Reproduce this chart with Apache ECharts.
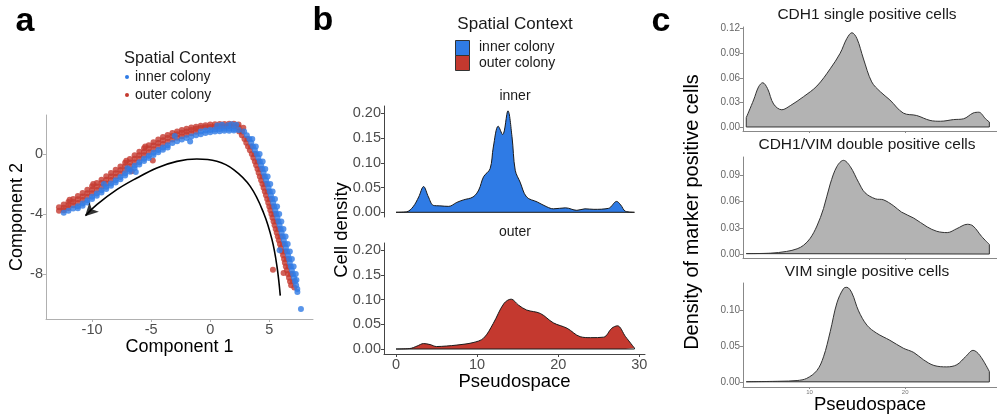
<!DOCTYPE html>
<html><head><meta charset="utf-8">
<script src="https://cdn.jsdelivr.net/npm/echarts@6/dist/echarts.min.js"></script>
<style>html,body{margin:0;padding:0;background:#fff}#chart{width:997px;height:417px}</style>
</head><body><div id="chart"></div>
<script>
const FONT = "'Liberation Sans', Arial, Helvetica, sans-serif";
const BLUE = '#2f7be5';
const RED = '#c4392f';
const GREY = '#b3b3b3';

// ---------- Panel a: trajectory scatter (Component 1 vs Component 2) ----------
const componentXTicks = [-10, -5, 0, 5];
const componentYTicks = [-8, -4, 0];
const outerColonyPoints = [
 // left arm
 [-12.8,-3.55],[-12.8,-3.78],[-12.4,-3.36],[-12.4,-3.58],[-12.4,-3.75],[-12.0,-3.2],[-12.0,-3.4],[-12.0,-3.6],
 [-11.6,-3.0],[-11.6,-3.2],[-11.6,-3.42],[-11.2,-2.8],[-11.2,-3.02],[-11.2,-3.26],[-10.8,-2.6],[-10.8,-2.83],[-10.8,-3.07],
 [-10.4,-2.38],[-10.4,-2.61],[-10.4,-2.85],[-10.0,-2.15],[-10.0,-2.38],[-10.0,-2.62],[-9.6,-1.93],[-9.6,-2.16],[-9.6,-2.4],
 [-9.2,-1.71],[-9.2,-1.94],[-9.2,-2.18],[-8.8,-1.49],[-8.8,-1.72],[-8.8,-1.96],[-8.4,-1.27],[-8.4,-1.5],[-8.4,-1.74],
 [-8.0,-1.05],[-8.0,-1.28],[-8.0,-1.52],[-7.6,-0.83],[-7.6,-1.06],[-7.6,-1.3],[-7.2,-0.59],[-7.2,-0.82],[-7.2,-1.06],
 [-6.8,-0.34],[-6.8,-0.57],[-6.8,-0.81],[-6.4,-0.09],[-6.4,-0.32],[-6.4,-0.56],[-6.0,0.15],[-6.0,-0.08],[-6.0,-0.32],
 [-5.6,0.38],[-5.6,0.15],[-5.6,-0.09],[-5.2,0.59],[-5.2,0.36],[-5.2,0.12],[-4.8,0.79],[-4.8,0.56],[-4.8,0.32],
 [-4.4,0.97],[-4.4,0.74],[-4.4,0.5],[-4.0,1.14],[-4.0,0.91],[-4.0,0.67],[-3.6,1.27],[-3.6,1.06],[-3.6,0.82],
 [-3.2,1.4],[-3.2,1.2],[-3.2,0.96],[-2.8,1.5],[-2.8,1.32],[-2.8,1.08],[-2.4,1.6],[-2.4,1.42],[-2.4,1.19],
 [-2.0,1.68],[-2.0,1.5],[-2.0,1.29],[-1.6,1.76],[-1.6,1.6],[-1.6,1.39],[-1.2,1.82],[-1.2,1.68],[-1.2,1.48],
 [-0.8,1.88],[-0.8,1.74],[-0.4,1.92],[-0.4,1.78],[0.0,1.96],[0.0,1.8],[0.4,1.98],[0.4,1.82],[0.8,2.0],[0.8,1.84],
 [1.2,2.0],[1.2,1.84],[1.6,2.02],[1.6,1.86],[2.0,2.02],[2.0,1.84],[2.4,1.96],[2.4,1.78],[2.8,1.75],
 [-11.9,-3.05],[-9.9,-2.0],[-7.1,-0.45],[-5.5,0.5],[-4.86,-0.43],[-6.64,-1.15],
 // right arm
 [2.45,1.5],[2.68,1.25],[2.9,1.0],[3.05,0.75],[3.2,0.5],[3.36,0.25],[3.52,0],[3.65,-0.25],[3.78,-0.5],[3.89,-0.75],
 [4.0,-1.0],[4.1,-1.25],[4.2,-1.5],[4.31,-1.75],[4.42,-2.0],[4.52,-2.25],[4.62,-2.5],[4.72,-2.75],[4.82,-3.0],
 [4.91,-3.25],[5.0,-3.5],[5.09,-3.75],[5.18,-4.0],[5.27,-4.25],[5.36,-4.5],[5.45,-4.75],[5.54,-5.0],[5.63,-5.25],
 [5.72,-5.5],[5.81,-5.75],[5.9,-6.0],[5.99,-6.25],[6.08,-6.5],[6.17,-6.75],[6.25,-7.0],[6.32,-7.25],[6.4,-7.5],
 [6.49,-7.75],[6.58,-8.0],[6.67,-8.25],[6.76,-8.5],[6.85,-8.75],
 [2.7,1.5],[3.15,1.0],[3.45,0.5],[3.77,0],[4.03,-0.5],[4.25,-1.0],[4.45,-1.5],[4.67,-2.0],[4.87,-2.5],[5.07,-3.0],
 [5.25,-3.5],[5.43,-4.0],[5.61,-4.5],[5.79,-5.0],[5.97,-5.5],[6.15,-6.0],[6.33,-6.5],[6.5,-7.0],[6.65,-7.5],
 [6.83,-8.0],[7.01,-8.5],[7.12,-8.9],
 [5.31,-7.71],[6.21,-7.93]
];
const innerColonyPoints = [
 // left arm
 [-12.4,-3.92],[-12.0,-3.78],[-11.6,-3.64],[-11.2,-3.49],[-11.2,-3.62],[-10.8,-3.3],[-10.8,-3.45],[-10.4,-3.08],[-10.4,-3.23],
 [-10.0,-2.85],[-10.0,-3.0],[-9.6,-2.63],[-9.6,-2.78],[-9.2,-2.41],[-9.2,-2.56],[-8.8,-2.19],[-8.8,-2.34],[-8.4,-1.97],
 [-8.4,-2.12],[-8.0,-1.75],[-8.0,-1.9],[-7.6,-1.53],[-7.6,-1.68],[-7.2,-1.29],[-7.2,-1.44],[-6.8,-1.04],[-6.8,-1.19],
 [-6.4,-0.79],[-6.4,-0.94],[-6.0,-0.55],[-6.0,-0.7],[-5.6,-0.32],[-5.6,-0.47],[-5.2,-0.11],[-5.2,-0.26],[-4.8,0.09],
 [-4.8,-0.06],[-4.4,0.27],[-4.4,0.12],[-4.0,0.44],[-4.0,0.29],[-3.6,0.59],[-3.6,0.44],[-3.2,0.73],[-2.8,0.85],
 [-2.4,0.96],[-2.0,1.06],[-1.6,1.16],[-1.2,1.25],[-0.8,1.5],[-0.8,1.32],[-0.4,1.56],[-0.4,1.4],[0.0,1.6],[0.0,1.45],
 [0.4,1.64],[0.4,1.5],[0.8,1.66],[0.8,1.52],[1.2,1.68],[1.2,1.55],[1.6,1.68],[1.6,1.55],[2.0,1.66],[2.0,1.56],[2.4,1.6],
 [0.6,1.9],[1.0,1.95],[1.5,1.92],[1.8,1.98],[2.2,1.95],[-3.0,1.2],[-7.0,-0.95],[-9.0,-2.0],[-6.3,-1.2],[-1.7,0.84],
 // right arm
 [2.87,1.5],[3.1,1.25],[3.32,1.0],[3.47,0.75],[3.62,0.5],[3.78,0.25],[3.94,0],[4.07,-0.25],[4.2,-0.5],[4.31,-0.75],
 [4.42,-1.0],[4.52,-1.25],[4.62,-1.5],[4.73,-1.75],[4.84,-2.0],[4.94,-2.25],[5.04,-2.5],[5.14,-2.75],[5.24,-3.0],
 [5.33,-3.25],[5.42,-3.5],[5.51,-3.75],[5.6,-4.0],[5.69,-4.25],[5.78,-4.5],[5.87,-4.75],[5.96,-5.0],[6.05,-5.25],
 [6.14,-5.5],[6.23,-5.75],[6.32,-6.0],[6.41,-6.25],[6.5,-6.5],[6.59,-6.75],[6.67,-7.0],[6.74,-7.25],[6.82,-7.5],
 [6.91,-7.75],[7.0,-8.0],[7.09,-8.25],[7.18,-8.5],[7.27,-8.75],[7.37,-9.0],[7.38,-9.2],
 [3.56,1.0],[3.86,0.5],[4.18,0],[4.44,-0.5],[4.66,-1.0],[4.86,-1.5],[5.08,-2.0],[5.28,-2.5],[5.48,-3.0],[5.66,-3.5],
 [5.84,-4.0],[6.02,-4.5],[6.2,-5.0],[6.38,-5.5],[6.56,-6.0],[6.74,-6.5],[6.91,-7.0],[7.06,-7.5],[7.24,-8.0],[7.3,-8.4],
 [5.87,-6.42],[7.68,-10.33]
];
const pseudospaceTrajectory = [
 [5.93,-9.44],[5.65,-7.49],[5.23,-5.71],[4.52,-3.93],[3.39,-2.16],[1.98,-1.04],[0.56,-0.49],[-1.13,-0.33],
 [-2.82,-0.49],[-4.52,-0.93],[-6.21,-1.6],[-7.91,-2.38],[-9.6,-3.38],[-10.55,-4.1]
];
const trajectoryArrowHead = [[-10.6, -4.15]];

// ---------- Panel b: cell density along pseudospace ----------
const pseudospaceTicks = [0, 10, 20, 30];
const cellDensityTicks = [0, 0.05, 0.10, 0.15, 0.20];
const densityInner = [
 [0,0],[1.3,0.001],[2.1,0.011],[2.8,0.031],[3.4,0.052],[4.0,0.031],[4.6,0.014],[5.4,0.013],[6.5,0.012],
 [7.5,0.02],[8.3,0.025],[9.5,0.031],[10.2,0.045],[10.8,0.072],[11.6,0.088],[12.0,0.132],[12.6,0.174],
 [13.15,0.157],[13.8,0.205],[14.3,0.153],[14.7,0.085],[15.3,0.061],[16.1,0.031],[17.4,0.021],[18.6,0.011],
 [19.4,0.007],[20.9,0.009],[22.3,0.004],[23.3,0.007],[24.4,0.006],[26.2,0.008],[27.2,0.022],[27.7,0.015],
 [28.3,0.002],[29.4,0]
];
const densityOuter = [
 [0,0],[1.7,0.001],[2.6,0.006],[3.4,0.011],[4.2,0.009],[5.0,0.005],[6.2,0.006],[7.5,0.008],[9.5,0.013],
 [10.8,0.022],[12.0,0.052],[13.3,0.092],[14.2,0.101],[15.1,0.089],[16.1,0.079],[17.8,0.072],[19.4,0.053],
 [21.1,0.042],[22.7,0.025],[24.0,0.023],[25.6,0.024],[26.6,0.042],[27.3,0.047],[28.3,0.025],[29.4,0.002]
];

// ---------- Panel c: marker positive cell densities ----------
const markerXTicks = [10, 20];
const cdh1SingleTicks = [0, 0.03, 0.06, 0.09, 0.12];
const doublePositiveTicks = [0, 0.03, 0.06, 0.09];
const vimSingleTicks = [0, 0.05, 0.10];
const cdh1Single = [
 [3.38,0.0114],[4.15,0.033],[4.67,0.049],[5.1,0.054],[5.6,0.047],[6.24,0.028],[7.1,0.021],[7.98,0.026],
 [9.37,0.037],[10.77,0.05],[12.16,0.071],[13.2,0.09],[13.9,0.108],[14.43,0.115],[14.95,0.108],[15.64,0.083],
 [16.5,0.055],[17.4,0.043],[18.4,0.033],[19.8,0.017],[21.2,0.014],[22.6,0.008],[23.7,0.007],[25.05,0.009],
 [26.1,0.01],[27.1,0.017],[27.7,0.018],[28.4,0.01],[28.8,0.006]
];
const cdh1VimDouble = [
 [3.38,0.0005],[5.9,0.001],[7.6,0.003],[8.7,0.006],[9.37,0.01],[10.07,0.018],[10.77,0.032],[11.46,0.052],
 [12.16,0.08],[12.86,0.1],[13.55,0.107],[14.25,0.1],[15.12,0.082],[15.8,0.07],[16.9,0.063],[17.7,0.062],
 [18.8,0.055],[19.6,0.048],[20.9,0.041],[22.3,0.031],[23.3,0.026],[24.4,0.0245],[25.4,0.029],[26.5,0.034],
 [27.1,0.032],[28.0,0.02],[28.8,0.011]
];
const vimSingle = [
 [3.38,0.0003],[6.9,0.001],[8.7,0.002],[9.7,0.005],[10.77,0.016],[11.46,0.035],[12.16,0.07],[12.86,0.11],
 [13.55,0.13],[13.9,0.1317],[14.42,0.124],[15.12,0.099],[16.0,0.079],[17.0,0.068],[18.4,0.058],[19.8,0.047],
 [20.9,0.041],[21.9,0.031],[23.0,0.023],[24.35,0.021],[25.4,0.024],[26.3,0.035],[27.1,0.044],[27.8,0.037],
 [28.8,0.0145]
];

// ---------- helpers ----------
function outline(d) {
  const f = d[0], l = d[d.length - 1];
  return [f, [f[0], 0], [l[0], 0], l];
}
function valueAxis(o) {
  const ax = {
    type: 'value', gridIndex: o.grid, min: o.min, max: o.max, scale: true,
    splitLine: { show: false },
    axisLine: { show: o.line !== false, onZero: false, lineStyle: { color: o.color, width: 1 } },
    axisTick: { show: !!o.ticks, customValues: o.ticks, length: o.tickLen || 3, lineStyle: { color: o.color } },
    axisLabel: { show: o.labels !== false && !!o.ticks, customValues: o.ticks, color: o.labelColor || '#4d4d4d',
      fontSize: o.fontSize || 14, fontFamily: FONT, margin: o.margin || 3,
      formatter: o.fmt || (v => String(v)) }
  };
  if (o.name) {
    Object.assign(ax, { name: o.name, nameLocation: 'middle', nameGap: o.nameGap,
      nameTextStyle: { color: '#000', fontSize: o.nameSize, fontFamily: FONT } });
  }
  return ax;
}
const fmt2 = v => v.toFixed(2);

function densitySeries(data, xi, fill, lineColor) {
  return [{
    type: 'line', xAxisIndex: xi, yAxisIndex: xi, data: data, smooth: 0.35, symbol: 'none',
    lineStyle: { color: lineColor, width: 1 }, areaStyle: { color: fill, opacity: 1 }, z: 2, silent: true
  }, {
    type: 'line', xAxisIndex: xi, yAxisIndex: xi, data: outline(data), symbol: 'none',
    lineStyle: { color: lineColor, width: 1 }, z: 3, silent: true
  }];
}

function txt(text, x, y, size, opts) {
  opts = opts || {};
  return {
    type: 'text', x: x, y: y, rotation: opts.rot || 0, z: 10,
    style: { text: text, x: 0, y: 0, fontSize: size, fontFamily: FONT, fontWeight: opts.bold ? 'bold' : 'normal',
      fill: opts.color || '#1a1a1a', align: opts.align || 'center', verticalAlign: 'middle',
      textAlign: opts.align || 'center', textVerticalAlign: 'middle' }
  };
}

const chart = echarts.init(document.getElementById('chart'), null, { renderer: 'canvas' });
const option = {
  backgroundColor: '#ffffff',
  animation: false,
  textStyle: { fontFamily: FONT },
  grid: [
    { left: 46, top: 115, width: 267, height: 204 },
    { left: 384, top: 106, width: 261, height: 111 },
    { left: 384, top: 243, width: 261, height: 111 },
    { left: 743, top: 27, width: 254, height: 104 },
    { left: 743, top: 157, width: 254, height: 101 },
    { left: 743, top: 283, width: 254, height: 104 }
  ],
  xAxis: [
    valueAxis({ grid: 0, min: -13.9, max: 8.7, ticks: componentXTicks, color: '#b0b0b0', fontSize: 14.5,
      name: 'Component 1', nameGap: 15, nameSize: 18 }),
    valueAxis({ grid: 1, min: -1.48, max: 30.7, line: false, labels: false }),
    valueAxis({ grid: 2, min: -1.48, max: 30.7, ticks: pseudospaceTicks, color: '#444', fontSize: 14.5,
      name: 'Pseudospace', nameGap: 17, nameSize: 18.5 }),
    valueAxis({ grid: 3, min: 3.04, max: 29.6, ticks: markerXTicks, labels: false, color: '#888', tickLen: 2 }),
    valueAxis({ grid: 4, min: 3.04, max: 29.6, ticks: markerXTicks, labels: false, color: '#888', tickLen: 2 }),
    valueAxis({ grid: 5, min: 3.04, max: 29.6, ticks: markerXTicks, color: '#888', tickLen: 2, fontSize: 6,
      labelColor: '#777', margin: 2, name: 'Pseudospace', nameGap: 8, nameSize: 18.5 })
  ],
  yAxis: [
    valueAxis({ grid: 0, min: -11, max: 2.6, ticks: componentYTicks, color: '#b0b0b0', fontSize: 14.5,
      name: 'Component 2', nameGap: 18, nameSize: 18 }),
    valueAxis({ grid: 1, min: -0.0095, max: 0.2148, ticks: cellDensityTicks, color: '#444', fontSize: 14.5, fmt: fmt2 }),
    valueAxis({ grid: 2, min: -0.0101, max: 0.2147, ticks: cellDensityTicks, color: '#444', fontSize: 14.5, fmt: fmt2 }),
    valueAxis({ grid: 3, min: -0.0049, max: 0.122, ticks: cdh1SingleTicks, color: '#888', fontSize: 10, labelColor: '#666', fmt: fmt2 }),
    valueAxis({ grid: 4, min: -0.0045, max: 0.1108, ticks: doublePositiveTicks, color: '#888', fontSize: 10, labelColor: '#666', fmt: fmt2 }),
    valueAxis({ grid: 5, min: -0.007, max: 0.1377, ticks: vimSingleTicks, color: '#888', fontSize: 10, labelColor: '#666', fmt: fmt2 })
  ],
  series: [
    { name: 'outer colony', type: 'scatter', xAxisIndex: 0, yAxisIndex: 0, data: outerColonyPoints,
      symbolSize: 6, itemStyle: { color: RED }, silent: true },
    { name: 'inner colony', type: 'scatter', xAxisIndex: 0, yAxisIndex: 0, data: innerColonyPoints,
      symbolSize: 6, itemStyle: { color: BLUE }, silent: true },
    { name: 'trajectory', type: 'line', xAxisIndex: 0, yAxisIndex: 0, data: pseudospaceTrajectory, smooth: 0.4,
      symbol: 'none', lineStyle: { color: '#000', width: 1.6 }, z: 4, silent: true },
    { name: 'arrow', type: 'scatter', xAxisIndex: 0, yAxisIndex: 0, data: trajectoryArrowHead, symbol: 'arrow',
      symbolSize: [10, 13], symbolRotate: 135, itemStyle: { color: '#000' }, z: 5, silent: true },
    ...densitySeries(densityInner, 1, BLUE, '#1a1a1a'),
    ...densitySeries(densityOuter, 2, RED, '#1a1a1a'),
    ...densitySeries(cdh1Single, 3, GREY, '#333'),
    ...densitySeries(cdh1VimDouble, 4, GREY, '#333'),
    ...densitySeries(vimSingle, 5, GREY, '#333')
  ],
  graphic: [
    txt('a', 25, 22, 34, { bold: true, color: '#000' }),
    txt('b', 323, 21, 34, { bold: true, color: '#000' }),
    txt('c', 661, 22, 34, { bold: true, color: '#000' }),
    // panel a legend
    txt('Spatial Context', 180, 58, 16.5),
    { type: 'circle', shape: { cx: 127, cy: 77, r: 2 }, style: { fill: BLUE } },
    { type: 'circle', shape: { cx: 127, cy: 95, r: 2 }, style: { fill: RED } },
    txt('inner colony', 135, 77, 14, { align: 'left' }),
    txt('outer colony', 135, 95, 14, { align: 'left' }),
    // panel b legend
    txt('Spatial Context', 515, 24, 17),
    { type: 'rect', shape: { x: 455.5, y: 40.5, width: 14, height: 15 }, style: { fill: BLUE, stroke: '#333', lineWidth: 1 } },
    { type: 'rect', shape: { x: 455.5, y: 55.5, width: 14, height: 15 }, style: { fill: RED, stroke: '#333', lineWidth: 1 } },
    txt('inner colony', 479, 47, 14, { align: 'left' }),
    txt('outer colony', 479, 63, 14, { align: 'left' }),
    txt('inner', 515, 96, 14),
    txt('outer', 515, 232, 14),
    txt('Cell density', 342, 230, 18.5, { rot: Math.PI / 2, color: '#000' }),
    // panel c titles
    txt('CDH1 single positive cells', 867, 15, 15.5),
    txt('CDH1/VIM double positive cells', 867, 145, 15.5),
    txt('VIM single positive cells', 867, 272, 15.5),
    txt('Density of marker positive cells', 692, 212, 20, { rot: Math.PI / 2, color: '#000' })
  ]
};
chart.setOption(option);
</script>
</body></html>
